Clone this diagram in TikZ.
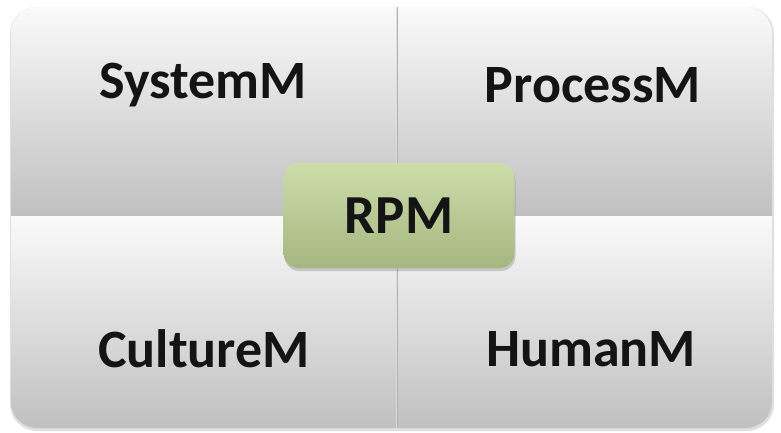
\documentclass[tikz,border=0pt]{standalone}
\usepackage{fontspec}
\setmainfont{Carlito}
\usetikzlibrary{shadows}

\definecolor{quadtop}{HTML}{FAFAFA}
\definecolor{quadbot}{HTML}{C0C0C0}
\definecolor{coretop}{HTML}{CCDDAA}
\definecolor{corebot}{HTML}{A6B680}

\begin{document}
\begin{tikzpicture}[x=1pt,y=-1pt,
  quad/.style={top color=quadtop,bottom color=quadbot},
  quadtext/.style={font=\fontsize{54}{60}\selectfont\bfseries,text=black!92},
  core/.style={rounded corners=15pt,minimum width=231pt,minimum height=105pt,
    top color=coretop,bottom color=corebot,
    drop shadow={shadow xshift=1pt,shadow yshift=-3pt,opacity=0.35},
    font=\fontsize{55}{60}\selectfont\bfseries,text=black!92},
]
  \useasboundingbox (0,0) rectangle (781,432);
  % shadow round the whole panel
  \fill[gray!25,rounded corners=27] (10,7) rectangle (774,431);
  \begin{scope}
    \clip[rounded corners=26] (11,7) rectangle (772,428);
    \shade[quad] (11,7) rectangle (396,215);
    \shade[quad] (398,7) rectangle (772,215);
    \shade[quad] (11,216) rectangle (396,428);
    \shade[quad] (398,216) rectangle (772,428);
  \end{scope}
  \draw[gray!60,line width=0.8pt] (397,7) -- (397,428);

  \node[quadtext] (sys) at (203,85) {SystemM};
  \node[quadtext] (proc) at (593,85) {ProcessM};
  \node[quadtext] (cult) at (204,349) {CultureM};
  \node[quadtext] (hum) at (591,349) {HumanM};

  \node[core] (rpm) at (399,215.5) {RPM};
\end{tikzpicture}
\end{document}
